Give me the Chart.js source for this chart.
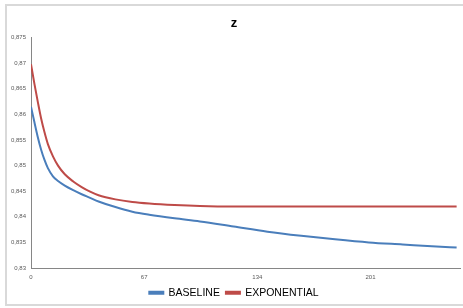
<!DOCTYPE html>
<html>
<head>
<meta charset="utf-8">
<script src="https://cdn.jsdelivr.net/npm/chart.js@4/dist/chart.umd.min.js"></script>
<style>
  html, body { margin: 0; padding: 0; background: #ffffff; }
  #wrap { position: relative; width: 463px; height: 308px; }
</style>
</head>
<body>
<div id="wrap"><canvas id="c" width="463" height="308"></canvas></div>
<script>
const xs = [0, 2, 4, 6, 8, 10, 13, 16, 20, 25, 30, 35, 40, 50, 60, 70, 85, 100, 120, 140, 160, 180, 200, 220, 240, 252];
const baseline = [0.8615, 0.8585, 0.8556, 0.8531, 0.8511, 0.8495, 0.8479, 0.8470, 0.8461, 0.8452, 0.8444, 0.8437, 0.8430, 0.8419, 0.8410, 0.8404, 0.8397, 0.8391, 0.8381, 0.8371, 0.8363, 0.8356, 0.8350, 0.8346, 0.8342, 0.8340];
const exponential = [0.8698, 0.8660, 0.8625, 0.8592, 0.8565, 0.8542, 0.8518, 0.8500, 0.8483, 0.8469, 0.8458, 0.8449, 0.8442, 0.8434, 0.8429, 0.8426, 0.8423, 0.8421, 0.8420, 0.8420, 0.8420, 0.8420, 0.8420, 0.8420, 0.8420, 0.8420];
const xTicks = [0, 67, 134, 201];
const seriesNames = ['BASELINE', 'EXPONENTIAL'];
const chartTitle = 'z';

const toPts = arr => arr.map((v, i) => ({ x: xs[i], y: v }));

const framePlugin = {
  id: 'frame',
  beforeDraw(chart) {
    const ctx = chart.ctx;
    ctx.save();
    ctx.fillStyle = '#ffffff';
    ctx.fillRect(0, 0, chart.width, chart.height);
    ctx.strokeStyle = '#d9d9d9';
    ctx.lineWidth = 2;
    ctx.beginPath();
    ctx.moveTo(chart.width + 5, 5);
    ctx.lineTo(6, 5);
    ctx.lineTo(6, 305);
    ctx.lineTo(chart.width + 5, 305);
    ctx.stroke();
    ctx.restore();
  }
};

new Chart(document.getElementById('c'), {
  type: 'line',
  data: {
    datasets: [
      { label: seriesNames[0], data: toPts(baseline), borderColor: '#4a7ebb', backgroundColor: '#4a7ebb', borderWidth: 2, pointRadius: 0, cubicInterpolationMode: 'monotone' },
      { label: seriesNames[1], data: toPts(exponential), borderColor: '#be4b48', backgroundColor: '#be4b48', borderWidth: 2, pointRadius: 0, cubicInterpolationMode: 'monotone' }
    ]
  },
  options: {
    responsive: false,
    animation: false,
    layout: { padding: { left: 8, right: 3, top: 10, bottom: 0 } },
    plugins: {
      title: { display: true, text: chartTitle, color: '#000', font: { family: 'Liberation Sans', size: 13, weight: 'bold' }, padding: { top: 6, bottom: 6 } },
      legend: {
        position: 'bottom',
        labels: { boxWidth: 14, boxHeight: 2, padding: 6, color: '#000', font: { family: 'Liberation Sans', size: 10.5 } }
      },
      tooltip: { enabled: false }
    },
    scales: {
      x: {
        type: 'linear', min: 0, max: 254,
        afterBuildTicks: axis => { axis.ticks = xTicks.map(v => ({ value: v })); },
        afterFit: s => { s.height = 13.5; },
        grid: { display: false, drawTicks: false },
        border: { display: true, color: '#868686', width: 1 },
        ticks: { color: '#595959', font: { family: 'Liberation Sans', size: 6 }, padding: 6, maxRotation: 0, autoSkip: false, callback: v => String(v) }
      },
      y: {
        min: 0.83, max: 0.875,
        afterFit: s => { s.width = 23; },
        grid: { display: false, drawTicks: false },
        border: { display: true, color: '#868686', width: 1 },
        ticks: { stepSize: 0.005, color: '#595959', font: { family: 'Liberation Sans', size: 6 }, padding: 5,
          callback: v => String(Math.round(v * 1000) / 1000).replace('.', ',') }
      }
    }
  },
  plugins: [framePlugin]
});
</script>
</body>
</html>
